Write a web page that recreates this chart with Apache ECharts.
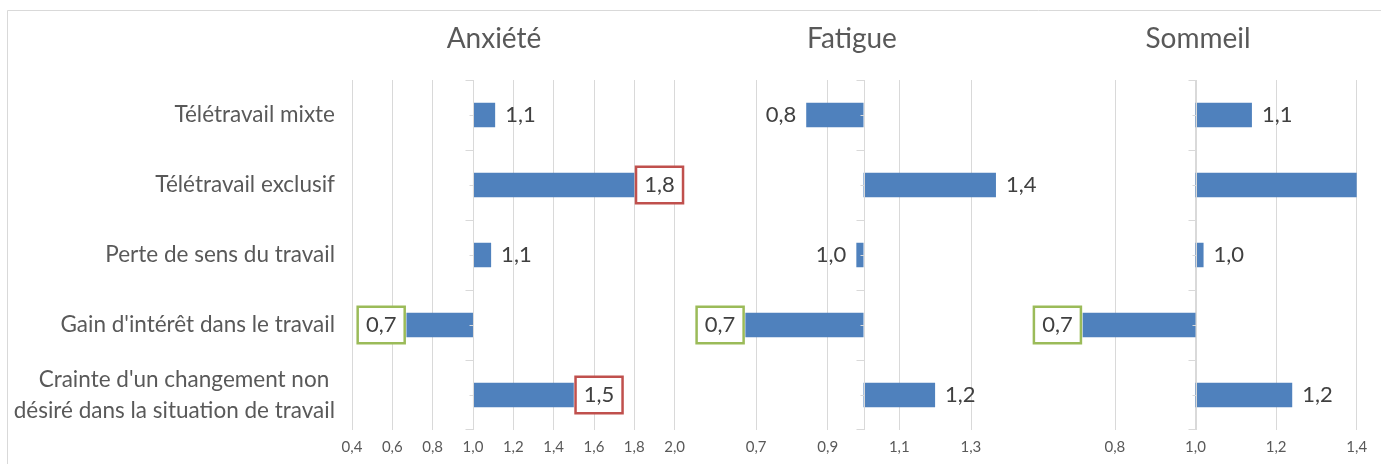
<!DOCTYPE html>
<html>
<head>
<meta charset="utf-8">
<script src="https://cdn.jsdelivr.net/npm/echarts@6/dist/echarts.min.js"></script>
<style>
  html, body { margin: 0; padding: 0; background: #ffffff; }
  #chart { width: 1381px; height: 464px; }
</style>
</head>
<body>
<div id="chart"></div>
<script>
// Odds ratios by work situation, one panel per health outcome
const categories = [
  'Télétravail mixte',
  'Télétravail exclusif',
  'Perte de sens du travail',
  "Gain d'intérêt dans le travail",
  "Crainte d'un changement non \ndésiré dans la situation de travail"
];
const panelTitles = ['Anxiété', 'Fatigue', 'Sommeil'];

const anxiete = [1.11, 1.80, 1.09, 0.67, 1.50];
const fatigue = [0.84, 1.37, 0.98, 0.67, 1.20];
const sommeil = [1.14, 1.50, 1.02, 0.72, 1.24];

// 1 = significantly higher risk, -1 = significantly lower, 0 = not significant
const anxieteSig = [0, 1, 0, -1, 1];
const fatigueSig = [0, 0, 0, -1, 0];
const sommeilSig = [0, 0, 0, -1, 0];

const anxieteTicks = [0.4, 0.6, 0.8, 1.0, 1.2, 1.4, 1.6, 1.8, 2.0];
const fatigueTicks = [0.7, 0.9, 1.1, 1.3];
const sommeilTicks = [0.8, 1.0, 1.2, 1.4];

const FONT = 'Lato, "Open Sans", sans-serif';
const GRID_LINE = '#D9D9D9';
const BAR = '#4F81BD';
const SIG_COLORS = { '1': '#C0504D', '-1': '#9BBB59' };

// Plot geometry of each panel (value axis range and placement)
const panels = [
  { title: panelTitles[0], values: anxiete, sig: anxieteSig, ticks: anxieteTicks,
    min: 0.4, max: 2.0, left: 352, width: 322.6, titleX: 494 },
  { title: panelTitles[1], values: fatigue, sig: fatigueSig, ticks: fatigueTicks,
    min: 0.6, max: 1.4, left: 720.3, width: 286.4, titleX: 852 },
  { title: panelTitles[2], values: sommeil, sig: sommeilSig, ticks: sommeilTicks,
    min: 0.6, max: 1.4, left: 1034.3, width: 322.4, titleX: 1198 }
];
const TOP = 80, HEIGHT = 350;

const fmt = v => v.toFixed(1).replace('.', ',');

// Each item draws its bar (from the reference value 1), the piece of the
// vertical axis crossing at 1 within its band, the axis ticks and its label.
function makeRenderer(p) {
  return function (params, api) {
    const v = api.value(0);
    const cat = api.value(1);
    const sig = api.value(2);
    const base = api.coord([1, cat]);
    const end = api.coord([Math.min(Math.max(v, p.min), p.max), cat]);
    const band = api.size([0, 1])[1];
    const h = band * 0.35;
    const x0 = Math.min(base[0], end[0]);
    const w = Math.abs(end[0] - base[0]);
    const ax = Math.round(base[0]) + 0.5;
    const top = base[1] - band / 2, bottom = base[1] + band / 2;
    const lineStyle = { stroke: GRID_LINE, lineWidth: 1 };
    const children = [{
      type: 'rect',
      shape: { x: x0, y: base[1] - h / 2, width: w, height: h },
      style: { fill: BAR }
    }, {
      type: 'line', z2: 3,
      shape: { x1: ax, y1: top, x2: ax, y2: bottom }, style: lineStyle
    }, {
      type: 'line', z2: 3,
      shape: { x1: ax - 8, y1: Math.round(top) + 0.5, x2: ax, y2: Math.round(top) + 0.5 }, style: lineStyle
    }, {
      type: 'line', z2: 3,
      shape: { x1: ax - 4, y1: Math.round(base[1]) + 0.5, x2: ax, y2: Math.round(base[1]) + 0.5 }, style: lineStyle
    }];
    if (cat === categories.length - 1) {
      children.push({
        type: 'line', z2: 3,
        shape: { x1: ax - 8, y1: Math.round(bottom) - 0.5, x2: ax, y2: Math.round(bottom) - 0.5 }, style: lineStyle
      });
    }
    if (v <= p.max) {
      const up = v >= 1;
      const boxed = sig !== 0;
      children.push({
        type: 'text',
        x: up ? end[0] + 3 : end[0] - 3,
        y: base[1],
        z2: 5,
        style: {
          text: fmt(v),
          fill: '#404040',
          font: '22px ' + FONT,
          align: up ? 'left' : 'right',
          verticalAlign: 'middle',
          padding: [6, 7, 6, 7],
          backgroundColor: boxed ? '#ffffff' : null,
          borderColor: boxed ? SIG_COLORS[String(sig)] : null,
          borderWidth: boxed ? 2.5 : 0
        }
      });
    }
    return { type: 'group', children };
  };
}

const grid = [], xAxis = [], yAxis = [], series = [], title = [];
panels.forEach((p, i) => {
  grid.push({ left: p.left, top: TOP, width: p.width, height: HEIGHT });
  title.push({
    text: p.title, left: p.titleX, top: 25, padding: 0, textAlign: 'center',
    textStyle: { fontFamily: FONT, fontSize: 28, fontWeight: 'normal', color: '#595959' }
  });
  xAxis.push({
    type: 'value', gridIndex: i, min: p.min, max: p.max,
    axisLine: { show: false },
    axisTick: { show: false, customValues: p.ticks },
    axisLabel: {
      customValues: p.ticks, formatter: fmt, margin: 10,
      fontFamily: FONT, fontSize: 15, color: '#595959'
    },
    splitLine: { show: true, lineStyle: { color: GRID_LINE, width: 1 } }
  });
  yAxis.push({
    type: 'category', gridIndex: i, data: categories, inverse: true,
    axisLine: { show: false }, axisTick: { show: false },
    axisLabel: {
      show: i === 0, margin: 17, fontFamily: FONT, fontSize: 22.5,
      lineHeight: 31, color: '#595959', align: 'right'
    }
  });
  series.push({
    type: 'custom', xAxisIndex: i, yAxisIndex: i, clip: false,
    encode: { x: 0, y: 1 },
    data: p.values.map((v, k) => [v, k, p.sig[k]]),
    renderItem: makeRenderer(p),
    z: 2
  });
});

const chart = echarts.init(document.getElementById('chart'), null, { renderer: 'canvas' });
chart.setOption({
  animation: false,
  backgroundColor: '#ffffff',
  title, grid, xAxis, yAxis, series,
  graphic: [{
    type: 'rect', z: -10, silent: true,
    shape: { x: 7.5, y: 10.5, width: 1400, height: 500 },
    style: { fill: 'none', stroke: '#D9D9D9', lineWidth: 1 }
  }]
});
</script>
</body>
</html>
